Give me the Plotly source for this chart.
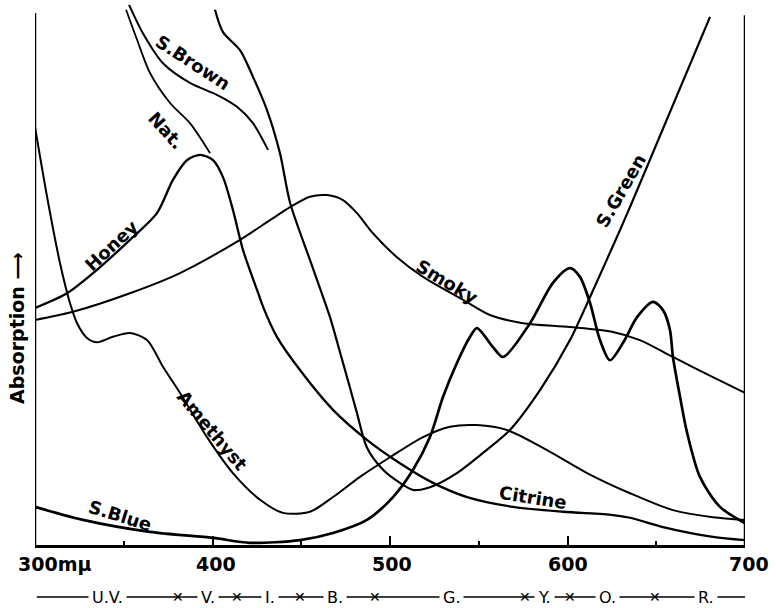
import plotly.graph_objects as go

# ---- data (wavelength in m\u03bc, absorption in arbitrary units 0-100) ----
amethyst_wl = [300, 306.8, 314.1, 319.7, 323.7, 329.3, 334.9, 343.9, 353.5, 363.1, 372.1, 381.7, 396.9,
               411.5, 426.8, 439.7, 454.9, 467.9, 483.1, 500.0, 518.6, 533.8, 549.0, 565.9, 588.5,
               611.0, 635.2, 659.4, 681.9, 700]
amethyst_a = [76.7, 63.9, 51.7, 44.4, 40.7, 38.0, 37.2, 38.2, 38.9, 37.6, 32.7, 27.9, 19.8,
              13.2, 8.3, 5.9, 6.1, 8.8, 12.5, 16.1, 19.8, 21.7, 22.0, 21.1, 17.4,
              13.2, 9.5, 6.4, 5.1, 4.6]

honey_wl = [300, 318.0, 334.9, 353.5, 368.7, 377.7, 385.6, 393.0, 400.3, 405.9, 411.5, 417.2, 425.1,
            428.5, 436.3, 449.3, 467.9, 487.0, 505.6, 524.2, 543.4, 569.3, 597.5, 625.6, 635.2,
            653.8, 681.9, 700]
honey_a = [43.5, 46.2, 50.5, 56.0, 60.9, 67.0, 70.6, 71.6, 70.6, 67.5, 61.5, 54.1, 46.8,
           43.7, 38.2, 32.1, 24.8, 19.3, 15.0, 11.4, 8.8, 7.0, 6.1, 5.5, 5.0,
           3.3, 1.5, 0.9]

nat_wl = [351.3, 357.5, 364.8, 376.1, 387.3, 398.6]
nat_a = [98.2, 92.7, 86.6, 81.1, 77.4, 71.9]

sbrown_wl = [353.0, 360.8, 372.1, 387.3, 402.5, 413.8, 422.8, 431.3]
sbrown_a = [99.1, 93.9, 88.4, 84.8, 82.6, 80.4, 77.4, 72.5]

sgreen_wl = [401.4, 405.9, 415.5, 422.8, 430.7, 438.0, 443.7, 454.9, 466.2, 471.8, 477.5, 481.4,
             487.0, 496.1, 505.6, 513.0, 522.5, 537.7, 552.4, 567.6, 584.5, 601.4, 612.7, 629.6,
             636.9, 680.3]
sgreen_a = [98.2, 94.1, 90.8, 85.9, 79.8, 71.9, 62.8, 52.3, 41.8, 35.4, 28.8, 24.2,
            17.9, 13.8, 11.4, 10.1, 10.6, 13.2, 16.9, 21.1, 28.4, 37.6, 45.5, 57.8,
            63.3, 96.9]

sblue_wl = [300, 327.0, 364.8, 400.3, 421.1, 449.3, 467.9, 487.0, 501.7, 513.0, 522.5, 529.9, 537.7,
            545.1, 549.0, 558.0, 563.7, 578.9, 591.8, 601.4, 607.0, 612.7, 618.3, 623.9, 631.3,
            639.2, 648.2, 653.8, 657.7, 659.4, 663.4, 667.3, 674.6, 685.9, 700]
sblue_a = [7.0, 4.6, 2.4, 1.3, 0.4, 0.9, 2.2, 4.6, 8.8, 13.8, 19.8, 27.2, 33.4,
           38.2, 39.8, 36.3, 34.5, 40.7, 48.1, 50.8, 49.2, 44.4, 37.6, 33.9, 37.1,
           41.8, 44.6, 43.1, 39.5, 34.5, 27.2, 20.7, 12.5, 7.0, 4.0]

smoky_wl = [300, 321.4, 353.5, 381.7, 415.5, 432.4, 443.7, 454.9, 464.5, 473.5, 481.4, 490.4, 503.9,
            518.6, 541.1, 556.3, 574.9, 601.4, 625.6, 640.8, 659.4, 681.9, 700]
smoky_a = [41.3, 42.8, 46.2, 49.9, 56.0, 59.6, 62.0, 63.9, 64.2, 63.3, 60.9, 57.2, 52.8,
           49.2, 45.0, 42.2, 40.7, 40.0, 39.1, 37.6, 34.5, 30.8, 27.9]

tick_vals = [300, 400, 500, 600, 700]
tick_text = ["300m\u03bc", "400", "500", "600", "700"]

band_names = ["U.V.", "V.", "I.", "B.", "G.", "Y.", "O.", "R."]
band_label_wl = [340.6, 397.5, 432.4, 469.0, 534.9, 587.3, 622.8, 678.0]
band_bounds = [380.6, 413.8, 449.3, 491.5, 576.0, 601.4, 649.3]

FONT = "DejaVu Sans"

fig = go.Figure()
series = [
    ("Amethyst", amethyst_wl, amethyst_a, 2.0),
    ("Honey / Citrine", honey_wl, honey_a, 2.3),
    ("Nat.", nat_wl, nat_a, 1.8),
    ("S.Brown", sbrown_wl, sbrown_a, 2.0),
    ("S.Green", sgreen_wl, sgreen_a, 2.2),
    ("S.Blue", sblue_wl, sblue_a, 2.7),
    ("Smoky", smoky_wl, smoky_a, 2.0),
]
for name, xs, ys, w in series:
    fig.add_trace(go.Scatter(x=xs, y=ys, mode="lines", name=name,
                             line=dict(color="black", width=w, shape="spline", smoothing=0.8),
                             showlegend=False, hoverinfo="x+y+name"))

# axis frame lines
fig.add_shape(type="line", x0=300, x1=300, y0=0, y1=97.6, xref="x", yref="y",
              line=dict(color="black", width=2.5))
fig.add_shape(type="line", x0=700, x1=700, y0=0, y1=97.2, xref="x", yref="y",
              line=dict(color="black", width=2.5))

# curve labels
labels = [
    ("S.Brown", 389, 88.6, 33),
    ("Nat.", 374, 76.1, 48),
    ("Honey", 343, 55.0, -43),
    ("Smoky", 532, 48.3, 31),
    ("S.Green", 630, 65.1, -60),
    ("Amethyst", 400, 21.1, 50),
    ("S.Blue", 348, 5.5, 17),
    ("Citrine", 580.5, 8.8, 9),
]
for txt, x, y, ang in labels:
    fig.add_annotation(x=x, y=y, xref="x", yref="y", text="<b>%s</b>" % txt, showarrow=False,
                       xanchor="center", yanchor="middle",
                       textangle=ang, font=dict(family=FONT, size=18, color="black"))

# tick labels
tick_dx = [19, 3, 2, 0, 4]
for v, t, dx in zip(tick_vals, tick_text, tick_dx):
    fig.add_annotation(x=v, y=-0.035, xref="x", yref="paper", text="<b>%s</b>" % t, showarrow=False,
                       xanchor="center", yanchor="middle", xshift=dx,
                       font=dict(family=FONT, size=19, color="black"))

# colour band row
band_y = -0.0955
fig.add_shape(type="line", x0=301, x1=700, y0=band_y, y1=band_y, xref="x", yref="paper",
              line=dict(color="black", width=1.4))
for b in band_bounds:
    fig.add_annotation(x=b, y=band_y, xref="x", yref="paper", text="<b>\u2715</b>", showarrow=False,
                       xanchor="center", yanchor="middle",
                       font=dict(family=FONT, size=14, color="black"))
for nm_, x in zip(band_names, band_label_wl):
    fig.add_annotation(x=x, y=band_y, xref="x", yref="paper", text=nm_, showarrow=False,
                       xanchor="center", yanchor="middle", bgcolor="white", borderpad=3,
                       font=dict(family=FONT, size=16, color="black"))

# y-axis title
fig.add_annotation(x=-0.0254, y=(545 - 328) / 545, xref="paper", yref="paper",
                   text="<b>Absorption \u27f6</b>", showarrow=False, textangle=-90,
                   xanchor="center", yanchor="middle",
                   font=dict(family=FONT, size=19, color="black"))

fig.update_layout(
    width=776, height=608,
    margin=dict(l=35, r=31, t=0, b=63),
    paper_bgcolor="white", plot_bgcolor="white",
    xaxis=dict(range=[300, 700], showgrid=False, zeroline=False, showline=True,
               linecolor="black", linewidth=2.5, ticks="inside", ticklen=9, tickwidth=2,
               tickcolor="black", tickvals=[400, 500, 600], showticklabels=False,
               minor=dict(tickvals=[350, 450, 550, 650], ticks="inside", ticklen=4,
                          tickwidth=1.5, tickcolor="black")),
    yaxis=dict(range=[0, 100], visible=False),
)

fig.write_html("out.html", config={"displayModeBar": False},
               post_script="document.body.style.margin='0px';document.body.style.padding='0px';"
                           "document.body.style.overflow='hidden';")
